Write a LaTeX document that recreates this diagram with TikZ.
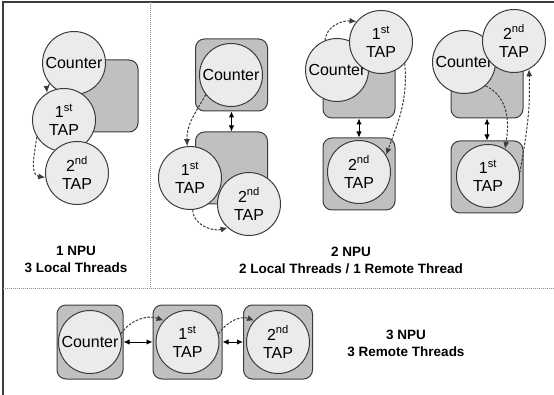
\documentclass[tikz,border=0pt]{standalone}
\usepackage{fontspec}
\setmainfont{Liberation Sans}
\usetikzlibrary{arrows.meta}
\definecolor{edge}{HTML}{3C3C3C}
\definecolor{discfill}{HTML}{EBEBEB}
\definecolor{boxfill}{HTML}{C0C0C0}
\definecolor{sepline}{HTML}{8A8A8A}
\tikzset{
  thread/.style={circle, draw=edge, fill=discfill, line width=1pt,
    minimum size=63pt, inner sep=0pt, align=center,
    font=\fontsize{16}{18}\selectfont},
  npubox/.style={rectangle, rounded corners=9pt, draw=edge, fill=boxfill,
    line width=1pt, minimum width=72pt, minimum height=72pt, inner sep=0pt},
  flow/.style={draw=edge, line width=1pt, dash pattern=on 2.5pt off 1.5pt,
    -{Latex[length=7pt,width=6pt]}},
  link/.style={draw=black, line width=1pt,
    {Latex[length=6pt,width=5.5pt]}-{Latex[length=6pt,width=5.5pt]}},
  caption/.style={align=center, font=\bfseries\fontsize{13.5}{17}\selectfont},
}
\newcommand{\tapst}{1\textsuperscript{st}\\TAP}
\newcommand{\tapnd}{2\textsuperscript{nd}\\TAP}
\begin{document}
\begin{tikzpicture}[x=1pt,y=1pt]
\useasboundingbox (0,0) rectangle (554,-395);
\fill[white] (0,0) rectangle (554,-395);

% frame and separators
\draw[edge, line width=1.5pt] (3,-395) -- (3,-2) -- (554,-2);
\draw[sepline, line width=0.8pt, dash pattern=on 1pt off 1pt] (150,-2) -- (150,-288);
\draw[sepline, line width=0.8pt, dash pattern=on 1pt off 1pt] (3,-288) -- (554,-288);

% ---- one NPU, three local threads
\node[npubox] (p1) at (102,-96) {};
\node[thread] (c1) at (74,-63) {Counter};
\node[thread] (t1) at (64,-120) {\tapst};
\node[thread] (s1) at (77,-173) {\tapnd};
\draw[flow] (c1.220) to[out=250,in=95] (t1.122);
\draw[flow] (t1.212) to[out=262,in=172] (s1.188);
\node[caption] (l1) at (76,-259) {1 NPU\\3 Local Threads};

% ---- two NPUs: counter alone, both TAPs together
\node[npubox] (a1) at (231.5,-75) {};
\node[npubox] (a2) at (231.5,-168) {};
\node[thread] (cA) at (231,-75) {Counter};
\node[thread] (tA) at (190,-178) {\tapst};
\node[thread] (sA) at (249,-204) {\tapnd};
\draw[link] (a1.south) -- (a2.north);
\draw[flow] (cA.218) to[out=240,in=92] (tA.95);
\draw[flow] (tA.275) to[out=270,in=195] (sA.228);

% ---- two NPUs: counter with 1st TAP, 2nd TAP alone
\node[npubox] (b1) at (359,-82) {};
\node[npubox] (b2) at (359,-174) {};
\node[thread] (cB) at (337,-70) {Counter};
\node[thread] (tB) at (381,-42) {\tapst};
\node[thread] (sB) at (359,-172) {\tapnd};
\draw[link] (b1.south) -- (b2.north);
\draw[flow] (cB.112) to[out=85,in=175] (tB.140);
\draw[flow] (tB.-42) to[out=-85,in=70] (sB.32);

% ---- two NPUs: counter with 2nd TAP, 1st TAP alone
\node[npubox] (d1) at (487,-82) {};
\node[npubox] (d2) at (487,-177) {};
\node[thread] (cC) at (464,-62) {Counter};
\node[thread] (sC) at (514,-41) {\tapnd};
\node[thread] (tC) at (488,-176) {\tapst};
\draw[link] (d1.south) -- (d2.north);
\draw[flow] (cC.-48) to[out=-25,in=80] (tC.58);
\draw[flow] (tC.6) to[out=80,in=-88] (sC.-62);

\node[caption] (l2) at (351,-260) {2 NPU\\2 Local Threads / 1 Remote Thread};

% ---- three NPUs, three remote threads
\node[npubox, minimum width=66pt, minimum height=74pt] (e1) at (90,-342) {};
\node[npubox, minimum width=69pt, minimum height=74pt] (e2) at (187.5,-342) {};
\node[npubox, minimum width=69pt, minimum height=74pt] (e3) at (278,-342) {};
\node[thread] (c3) at (90,-342) {Counter};
\node[thread] (t3) at (187.5,-342) {\tapst};
\node[thread] (s3) at (278,-342) {\tapnd};
\draw[link] (e1.east) -- (e2.west);
\draw[link] (e2.east) -- (e3.west);
\draw[flow] (c3.15) to[out=55,in=160] (t3.138);
\draw[flow] (t3.15) to[out=55,in=160] (s3.138);
\node[caption] (l3) at (406,-343) {3 NPU\\3 Remote Threads};
\end{tikzpicture}
\end{document}
